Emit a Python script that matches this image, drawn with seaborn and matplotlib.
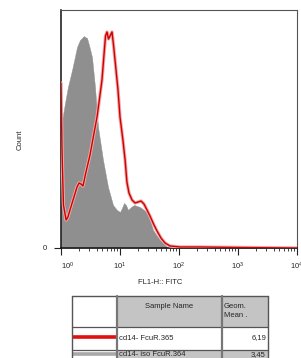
"""
FlowJo-style histogram overlay: CD14 FcuR vs isotype
"""

import numpy as np
import matplotlib
matplotlib.use('Agg')
import matplotlib.pyplot as plt
import seaborn as sns
from matplotlib.ticker import LogLocator, NullFormatter, FixedLocator
from matplotlib.patches import Rectangle

# ==================== data ====================
# isotype (gray filled)
iso_fl1 = [1.0, 1.17, 1.31, 1.54, 1.87, 2.10, 2.27, 2.45, 2.55, 2.76, 2.98, 3.35,
           3.77, 4.24, 5.15, 6.26, 7.61, 8.89, 10.0, 10.8, 11.7, 12.6, 13.7, 15.4,
           17.3, 19.4, 21.8, 25.5, 28.7, 32.2, 36.3, 42.4, 47.6, 55.7, 62.6, 79.1, 10000]
iso_count = [121, 145, 161, 178, 201, 208, 210, 212, 211, 210, 203, 191,
             161, 121, 88, 61, 43, 38, 36, 40, 45, 43, 38, 41,
             43, 42, 41, 38, 35, 28, 18, 12, 8, 4, 1, 0, 0]

# FcuR stained (red line)
fcur_fl1 = [1.0, 1.04, 1.10, 1.22, 1.31, 1.42, 1.60, 1.87, 2.02, 2.18, 2.36, 2.65,
            3.10, 3.63, 4.08, 4.58, 4.95, 5.35, 5.68, 6.02, 6.38, 6.77, 7.32, 7.76,
            8.23, 9.25, 10.0, 11.2, 12.2, 13.1, 14.2, 16.0, 18.0, 20.2, 22.7, 25.5,
            28.7, 32.2, 37.7, 42.4, 49.5, 57.9, 70.4, 104, 227, 1080, 10000]
fcur_count = [165, 98, 43, 28, 31, 38, 48, 61, 65, 64, 62, 76,
              93, 115, 131, 153, 168, 193, 212, 216, 209, 212, 216, 203,
              188, 158, 131, 108, 88, 66, 55, 48, 45, 46, 47, 44,
              38, 32, 23, 17, 10, 5, 2, 1, 1, 0.5, 0]

x_ticks = [1, 10, 100, 1000, 10000]
x_ticklabels = ['$10^0$', '$10^1$', '$10^2$', '$10^3$', '$10^4$']

sample_names = ['cd14- FcuR.365', 'cd14- iso FcuR.364']
geom_means = ['6,19', '3,45']
header = ['Sample Name', 'Geom.\nMean .']

# ==================== style ====================
sns.set_style('white')
plt.rcParams['font.family'] = ['Liberation Sans', 'DejaVu Sans']
plt.rcParams['mathtext.fontset'] = 'custom'
plt.rcParams['mathtext.rm'] = 'Liberation Sans'
plt.rcParams['mathtext.it'] = 'Liberation Sans'
plt.rcParams['mathtext.bf'] = 'Liberation Sans'

W, H = 301, 358
fig = plt.figure(figsize=(W / 100, H / 100), dpi=100)
ax = fig.add_axes([61 / W, 1 - 248 / H, 236 / W, 238 / H])

# gray filled isotype
ax.fill_between(iso_fl1, iso_count, 0, color='#8f8f8f', linewidth=0.3,
                edgecolor='#8f8f8f', zorder=2)

# red line with light halo
sns.lineplot(x=fcur_fl1, y=fcur_count, ax=ax, color='#f2a6a6', linewidth=2.4,
             estimator=None, sort=False, zorder=4)
sns.lineplot(x=fcur_fl1, y=fcur_count, ax=ax, color='#cc0000', linewidth=1.0,
             estimator=None, sort=False, zorder=5)

ax.set_xscale('log')
ax.set_xlim(1, 10000)
ax.set_ylim(0, 238)

ax.xaxis.set_major_locator(FixedLocator(x_ticks))
ax.xaxis.set_minor_locator(LogLocator(base=10, subs=np.arange(2, 10), numticks=20))
ax.xaxis.set_minor_formatter(NullFormatter())
ax.set_xticklabels(x_ticklabels)
ax.set_yticks([0])
ax.set_yticklabels(['0'])
ax.tick_params(axis='x', which='major', direction='out', length=5, width=0.8,
               color='#222222', labelsize=5.5, pad=4, bottom=True)
ax.tick_params(axis='x', which='minor', direction='out', length=2.5, width=0.6,
               color='#222222', bottom=True)
ax.tick_params(axis='y', direction='out', length=5, width=0.8, color='#222222',
               labelsize=5.5, pad=5, left=True)
ax.get_xticklabels()[0].set_horizontalalignment('left')

for side in ['left', 'bottom']:
    ax.spines[side].set_color('#111111')
    ax.spines[side].set_linewidth(1.1)
for side in ['top', 'right']:
    ax.spines[side].set_color('#555555')
    ax.spines[side].set_linewidth(0.8)

ax.set_xlabel('')
ax.set_ylabel('')
fig.text(160 / W, 1 - 283 / H, 'FL1-H:: FITC', fontsize=5.5, ha='center', va='center')
fig.text(20 / W, 1 - 140 / H, 'Count', fontsize=5.5, rotation=90, ha='center', va='center')

# ==================== legend table ====================
tab = fig.add_axes([0, 0, 1, 1])
tab.set_xlim(0, W)
tab.set_ylim(H, 0)
tab.axis('off')

x0, x1, x2, x3 = 72, 117, 222, 268
y0, y1, y2, y3 = 296, 327, 350, 366
cell_gray = '#c4c4c4'

# header
tab.add_patch(Rectangle((x0, y0), x1 - x0, y1 - y0, facecolor='white', edgecolor='none'))
tab.add_patch(Rectangle((x1, y0), x2 - x1, y1 - y0, facecolor=cell_gray, edgecolor='none'))
tab.add_patch(Rectangle((x2, y0), x3 - x2, y1 - y0, facecolor=cell_gray, edgecolor='none'))
tab.text((x1 + x2) / 2, 306, header[0], fontsize=5.5, ha='center', va='center')
tab.text(x2 + 2, 311, header[1], fontsize=5.5, ha='left', va='center', linespacing=1.3)

# rows
row_tops = [y1, y2]
row_bg = ['white', cell_gray]
line_colors = ['#e01010', '#a8a8a8']
for i in range(len(sample_names)):
    top = row_tops[i]
    bot = row_tops[i + 1] if i + 1 < len(row_tops) else y3
    tab.add_patch(Rectangle((x1, top), x2 - x1, bot - top, facecolor=row_bg[i], edgecolor='none'))
    tab.add_patch(Rectangle((x2, top), x3 - x2, bot - top, facecolor=row_bg[i], edgecolor='none'))
    ty = top + 11 if i == 0 else top + 5
    tab.plot([x0, x1], [ty - 1, ty - 1], color=line_colors[i], linewidth=2.6, solid_capstyle='butt')
    tab.text(x1 + 2, ty, sample_names[i], fontsize=5.5, ha='left', va='center')
    tab.text(x3 - 2, ty, geom_means[i], fontsize=5.5, ha='right', va='center')

# grid lines
lc = '#555555'
tab.plot([x0, x3], [y0, y0], color=lc, linewidth=1.0)
for yy in [y1, y2]:
    tab.plot([x0, x3], [yy, yy], color=lc, linewidth=0.9)
tab.plot([x0, x0], [y0, y3], color=lc, linewidth=1.0)
tab.plot([x3, x3], [y0, y3], color=lc, linewidth=1.0)
tab.plot([x1, x1], [y0, y3], color='#777777', linewidth=1.6)
tab.plot([x2, x2], [y0, y3], color='#777777', linewidth=1.6)

fig.savefig('out.png', dpi=100)
plt.close(fig)
